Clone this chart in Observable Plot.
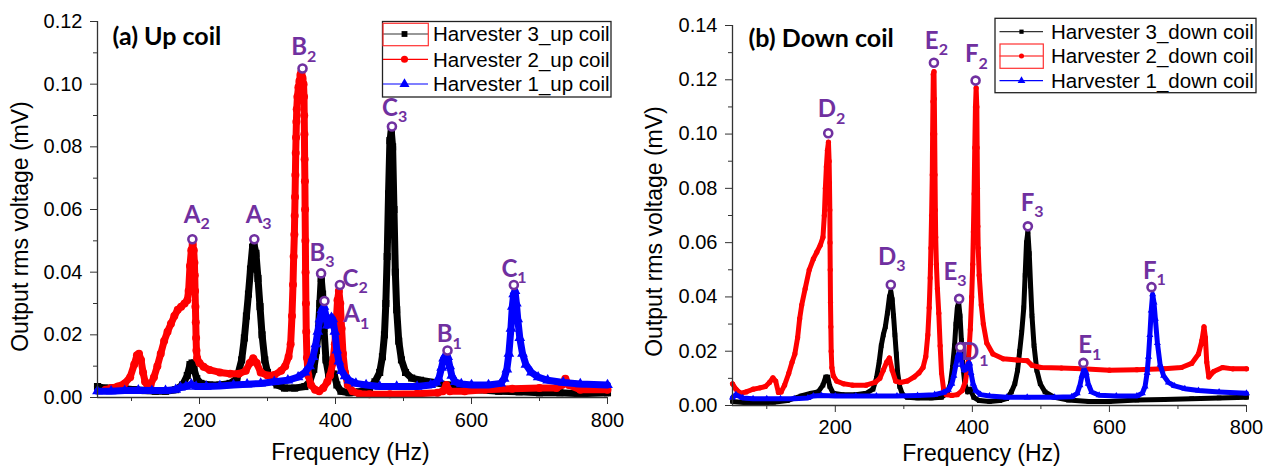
<!DOCTYPE html>
<html><head><meta charset="utf-8">
<script src="https://cdn.jsdelivr.net/npm/d3@7"></script>
<script src="https://cdn.jsdelivr.net/npm/@observablehq/plot@0.6"></script>
<style>
body{margin:0;background:#fff;}
#wrap{position:relative;width:1273px;height:467px;overflow:hidden;background:#fff;}
</style></head><body><div id="wrap"></div>
<script>
// ---------- ticks ----------
const xMajorTicks = [200, 400, 600, 800];
const xMinorTicks = [100, 300, 500, 700];
const yMajorUp = [0, 0.02, 0.04, 0.06, 0.08, 0.10, 0.12];
const yMinorUp = [0.01, 0.03, 0.05, 0.07, 0.09, 0.11];
const yMajorDown = [0, 0.02, 0.04, 0.06, 0.08, 0.10, 0.12, 0.14];
const yMinorDown = [0.01, 0.03, 0.05, 0.07, 0.09, 0.11, 0.13];

// ---------- panel (a) up coil: [frequency Hz, rms voltage mV] ----------
const h3Up = [[50,0.0035],[60,0.003],[75,0.003],[90,0.0028],[105,0.0025],[120,0.0022],[135,0.002],[150,0.002],[165,0.0025],[175,0.004],[182,0.007],[186,0.0105],[189,0.011],[192,0.009],[196,0.006],[202,0.0045],[215,0.004],[230,0.004],[245,0.0045],[255,0.006],[262,0.012],[266,0.019],[269,0.026],[272,0.033],[275,0.041],[278,0.048],[280,0.049],[283,0.046],[286,0.038],[289,0.029],[292,0.02],[296,0.012],[300,0.008],[306,0.0055],[314,0.004],[325,0.003],[340,0.003],[355,0.0035],[362,0.005],[368,0.009],[372,0.015],[375,0.022],[377,0.03],[379,0.038],[381,0.033],[383,0.022],[386,0.012],[390,0.007],[394,0.008],[398,0.0075],[402,0.004],[408,0.002],[420,0.0015],[435,0.0018],[450,0.003],[458,0.005],[465,0.008],[469,0.013],[472,0.02],[474,0.03],[476,0.045],[478,0.065],[480,0.082],[482,0.085],[484,0.08],[486,0.06],[488,0.04],[490,0.028],[493,0.018],[497,0.012],[503,0.008],[512,0.0062],[525,0.0055],[545,0.0048],[565,0.004],[585,0.003],[610,0.0025],[640,0.002],[670,0.0018],[700,0.0015],[730,0.0015],[760,0.0012],[800,0.0015]];
const h2Up = [[62,0.0025],[70,0.003],[80,0.0035],[90,0.0045],[98,0.0065],[104,0.0105],[108,0.0135],[111,0.014],[114,0.012],[117,0.008],[120,0.005],[124,0.0035],[128,0.004],[133,0.0065],[138,0.01],[143,0.014],[148,0.018],[153,0.021],[158,0.0235],[163,0.026],[168,0.028],[173,0.029],[178,0.03],[182,0.031],[184,0.034],[186,0.042],[188,0.047],[190,0.049],[191.5,0.047],[192.5,0.043],[193,0.039],[193.5,0.034],[194,0.029],[194.5,0.024],[195,0.019],[195.5,0.015],[196.5,0.0125],[200,0.011],[206,0.0098],[215,0.0088],[230,0.008],[245,0.0076],[258,0.0076],[268,0.0085],[274,0.011],[279,0.0125],[284,0.011],[290,0.008],[300,0.007],[310,0.0072],[320,0.0085],[326,0.01],[331,0.013],[334,0.017],[336,0.026],[337.5,0.036],[338.5,0.045],[339.5,0.052],[340,0.058],[340.5,0.064],[341,0.071],[341.5,0.078],[342,0.083],[342.5,0.088],[343,0.092],[344,0.096],[345.5,0.099],[347,0.101],[348.5,0.103],[350,0.104],[351.5,0.102],[353,0.1],[353.7,0.096],[354,0.09],[354.3,0.084],[354.6,0.076],[355,0.069],[355.3,0.06],[355.7,0.05],[356,0.04],[356.5,0.03],[357,0.021],[358,0.0127],[360,0.007],[364,0.004],[370,0.0025],[376,0.002],[382,0.003],[388,0.005],[392,0.007],[396,0.011],[399,0.017],[401,0.024],[403,0.031],[405,0.034],[407,0.03],[409,0.022],[411,0.014],[414,0.008],[418,0.004],[425,0.002],[435,0.0012],[450,0.001],[480,0.001],[520,0.0012],[550,0.0015],[558,0.002],[563,0.004],[568,0.002],[590,0.002],[620,0.0025],[660,0.0028],[700,0.003],[725,0.003],[733,0.004],[738,0.006],[743,0.004],[760,0.0025],[800,0.0025]];
const h1Up = [[50,0.002],[70,0.002],[90,0.0022],[110,0.0023],[130,0.0022],[150,0.0022],[165,0.0025],[172,0.0032],[180,0.0035],[188,0.0042],[195,0.0035],[210,0.0035],[230,0.0037],[250,0.004],[270,0.0042],[290,0.0045],[310,0.005],[330,0.0055],[345,0.0065],[355,0.008],[362,0.01],[367,0.013],[371,0.017],[374,0.021],[377,0.025],[380,0.028],[383,0.029],[386,0.026],[388,0.023],[391,0.024],[394,0.0255],[396,0.025],[399,0.021],[402,0.015],[405,0.0115],[409,0.0085],[414,0.0068],[420,0.0055],[430,0.0045],[445,0.004],[465,0.0035],[490,0.0035],[520,0.0035],[540,0.004],[548,0.0048],[552,0.006],[556,0.0095],[559,0.0125],[562,0.0135],[565,0.013],[568,0.01],[571,0.007],[576,0.005],[585,0.0043],[600,0.004],[625,0.004],[643,0.0045],[648,0.006],[652,0.009],[655,0.014],[658,0.022],[660,0.029],[662,0.033],[664,0.034],[666,0.03],[668,0.025],[671,0.019],[675,0.014],[680,0.0105],[688,0.008],[698,0.0065],[712,0.0055],[735,0.0048],[760,0.0043],[800,0.004]];

// ---------- panel (b) down coil ----------
const h3Down = [[50,0.0015],[70,0.001],[90,0.001],[110,0.0012],[130,0.0018],[150,0.0035],[165,0.0045],[175,0.005],[182,0.0075],[186,0.0105],[189,0.0105],[192,0.007],[197,0.0045],[210,0.004],[230,0.004],[245,0.0045],[255,0.006],[260,0.01],[264,0.016],[267,0.022],[270,0.026],[273,0.029],[276,0.034],[279,0.04],[281,0.042],[283,0.039],[285,0.033],[287,0.026],[289,0.019],[291,0.012],[294,0.007],[298,0.004],[305,0.003],[320,0.0028],[340,0.0028],[355,0.003],[363,0.0045],[368,0.008],[371,0.014],[374,0.022],[376,0.03],[378,0.036],[380,0.038],[382,0.033],[384,0.024],[386,0.015],[389,0.008],[393,0.005],[397,0.006],[402,0.003],[410,0.0018],[425,0.0015],[440,0.0018],[450,0.0025],[457,0.005],[462,0.008],[466,0.013],[469,0.02],[472,0.027],[475,0.036],[477,0.048],[479,0.06],[481,0.064],[483,0.056],[485,0.044],[487,0.033],[490,0.022],[494,0.013],[499,0.008],[506,0.005],[520,0.003],[540,0.002],[570,0.0015],[600,0.0015],[640,0.002],[680,0.0022],[720,0.0025],[760,0.0028],[800,0.003]];
const h2Down = [[50,0.008],[55,0.006],[62,0.0045],[70,0.005],[80,0.006],[90,0.0065],[98,0.007],[104,0.0085],[109,0.0102],[113,0.009],[117,0.0048],[121,0.005],[126,0.0075],[132,0.0118],[137,0.016],[141,0.019],[145,0.025],[148,0.032],[151,0.037],[156,0.043],[162,0.05],[168,0.054],[173,0.0565],[178,0.059],[182,0.062],[184,0.07],[185.5,0.08],[187,0.088],[188.5,0.094],[190,0.097],[191,0.09],[191.5,0.082],[192,0.072],[192.3,0.06],[192.6,0.05],[193,0.038],[193.5,0.029],[194,0.02],[195,0.014],[197,0.011],[202,0.009],[212,0.008],[225,0.0075],[245,0.0075],[258,0.0085],[265,0.01],[270,0.013],[275,0.016],[279,0.0175],[283,0.013],[288,0.009],[295,0.0085],[305,0.009],[315,0.0105],[322,0.012],[328,0.014],[332,0.018],[335,0.026],[337,0.036],[338.5,0.047],[339.5,0.058],[340.5,0.07],[341.5,0.085],[342,0.1],[342.5,0.112],[343,0.122],[344,0.123],[344.5,0.113],[345,0.1],[345.5,0.085],[346,0.072],[346.5,0.062],[347.5,0.052],[349,0.043],[351,0.034],[353,0.022],[355,0.012],[358,0.006],[362,0.004],[370,0.0037],[378,0.004],[385,0.0055],[390,0.009],[394,0.016],[397,0.028],[399,0.04],[400.5,0.052],[401.5,0.064],[402.5,0.078],[403.5,0.095],[404.5,0.11],[405.5,0.117],[406.5,0.11],[407,0.095],[407.5,0.08],[408,0.066],[408.5,0.058],[410,0.048],[413,0.037],[416,0.03],[421,0.023],[430,0.019],[445,0.0172],[465,0.0168],[480,0.0165],[487,0.0148],[500,0.014],[530,0.0138],[560,0.0135],[600,0.013],[640,0.0132],[680,0.0135],[705,0.014],[720,0.0155],[730,0.019],[735,0.024],[738,0.029],[740,0.025],[742,0.016],[745,0.0105],[752,0.0125],[765,0.014],[780,0.0135],[800,0.0135]];
const h1Down = [[50,0.003],[55,0.004],[65,0.0028],[80,0.0025],[100,0.0025],[120,0.0025],[140,0.0025],[160,0.0028],[168,0.0035],[180,0.0037],[200,0.0035],[230,0.0035],[260,0.0035],[290,0.0035],[320,0.0037],[345,0.004],[358,0.0048],[365,0.0058],[370,0.008],[373,0.011],[376,0.015],[379,0.0185],[381,0.0195],[383,0.0185],[385,0.015],[388,0.013],[391,0.0135],[394,0.0155],[396,0.0155],[398,0.012],[401,0.008],[405,0.0055],[412,0.004],[425,0.0035],[450,0.003],[480,0.003],[520,0.003],[545,0.0032],[553,0.0045],[557,0.0075],[560,0.011],[563,0.0135],[566,0.012],[569,0.008],[574,0.005],[585,0.0038],[610,0.0035],[640,0.0035],[648,0.0045],[652,0.007],[655,0.012],[657,0.018],[659,0.026],[661,0.035],[663,0.041],[665,0.038],[667,0.032],[670,0.023],[674,0.015],[679,0.011],[686,0.0085],[695,0.0072],[710,0.0062],[730,0.0055],[760,0.005],[800,0.0045]];

// ---------- annotations: label, marker (freq, volt), label anchor (freq, volt) ----------
const annoUpLabel = ["A2","A3","B2","B3","A1","C2","C3","B1","C1"];
const annoUpFreq = [189.5, 280.6, 351.5, 378.8, 383.7, 406.5, 483, 564.7, 662.3];
const annoUpVolt = [0.0505, 0.0505, 0.105, 0.0396, 0.0308, 0.0359, 0.0865, 0.015, 0.0359];
const annoUpTextFreq = [197, 288, 353.7, 380.6, 431.6, 429.4, 487.5, 567.6, 663];
const annoUpTextVolt = [0.0583, 0.0583, 0.1117, 0.046, 0.0265, 0.0377, 0.0924, 0.0201, 0.0409];

const annoDownLabel = ["D2","E2","F2","D3","E3","F3","D1","E1","F1"];
const annoDownFreq = [189.7, 343.9, 404.7, 281, 380.7, 481, 382.4, 562, 661.4];
const annoDownVolt = [0.1003, 0.1263, 0.1197, 0.0445, 0.0393, 0.066, 0.0215, 0.0157, 0.0436];
const annoDownTextFreq = [196.5, 346.4, 404.7, 284.6, 373.5, 486, 405.6, 570.3, 664.3];
const annoDownTextVolt = [0.109, 0.1342, 0.1293, 0.0546, 0.0491, 0.0745, 0.0196, 0.0221, 0.0495];

const legendUp = ["Harvester 3_up coil", "Harvester 2_up coil", "Harvester 1_up coil"];
const legendDown = ["Harvester 3_down coil", "Harvester 2_down coil", "Harvester 1_down coil"];

const COLORS = ["#000000", "#ff0000", "#0000ff"];
const SYMBOLS = ["square", "circle", "triangle"];
const PURPLE = "#7030a0";
const SANS = "'Liberation Sans', Arial, sans-serif";
const CAL = "Lato, 'Open Sans', sans-serif";

const toRows = arr => arr.map(([f, v]) => ({f, v}));

function buildPanel(c) {
  const marks = [];
  c.series.forEach((s, i) => {
    const rows = toRows(s);
    marks.push(Plot.line(rows, {x: "f", y: "v", stroke: COLORS[i], strokeWidth: c.lineW, strokeLinejoin: "round", strokeLinecap: "round"}));
    marks.push(Plot.dot(rows, {x: "f", y: "v", symbol: () => SYMBOLS[i], fill: COLORS[i], r: c.dotR, stroke: "none"}));
  });
  const anno = c.annoLabel.map((l, i) => ({l, f: c.annoFreq[i], v: c.annoVolt[i], tf: c.annoTF[i], tv: c.annoTV[i]}));
  marks.push(
    Plot.dot(anno, {x: "f", y: "v", r: 4, stroke: PURPLE, strokeWidth: 2.6, fill: "white"}),
    Plot.text(anno, {x: "tf", y: "tv", text: d => d.l[0], textAnchor: "end", dx: 3, lineAnchor: "middle", fontSize: 24, fontWeight: "bold", fontFamily: CAL, fill: PURPLE}),
    Plot.text(anno, {x: "tf", y: "tv", text: d => d.l.slice(1), textAnchor: "start", dx: 3, dy: 9, lineAnchor: "middle", fontSize: 16, fontWeight: "bold", fontFamily: CAL, fill: PURPLE}),
    Plot.ruleX([50], {stroke: "#333", strokeWidth: 1.3}),
    Plot.ruleY([0], {stroke: "#333", strokeWidth: 1.3}),
    Plot.axisX({ticks: xMajorTicks, anchor: "bottom", tickSize: 7, tickPadding: c.xPad, label: null, fontSize: 20, fontFamily: SANS, stroke: "#333"}),
    Plot.axisX({ticks: xMinorTicks, anchor: "bottom", tickSize: 4, tickFormat: () => "", label: null, stroke: "#333"}),
    Plot.axisY({ticks: c.yMajor, anchor: "left", tickSize: 7, tickPadding: 8, tickFormat: d => d.toFixed(2), label: null, fontSize: 20, fontFamily: SANS, stroke: "#333"}),
    Plot.axisY({ticks: c.yMinor, anchor: "left", tickSize: 4, tickFormat: () => "", label: null, stroke: "#333"}),
    Plot.text(["Frequency (Hz)"], {text: d => d, frameAnchor: "bottom", textAnchor: "middle", lineAnchor: "middle", dx: c.xLabDx, dy: c.xLabDy, fontSize: 23, fontFamily: SANS, fill: "#000"}),
    Plot.text(["Output rms voltage (mV)"], {text: d => d, frameAnchor: "left", textAnchor: "middle", lineAnchor: "middle", rotate: -90, dx: c.yLabDx, dy: c.yLabDy, fontSize: 23, fontFamily: SANS, fill: "#000"}),
    Plot.text([c.title], {text: d => d, frameAnchor: "top-left", textAnchor: "start", lineAnchor: "middle", dx: c.titleDx, dy: c.titleDy, fontSize: 25, fontWeight: "bold", fontFamily: CAL, fill: "#000"})
  );
  const svg = Plot.plot({
    width: c.width, height: 467,
    marginLeft: c.ml, marginRight: c.mr, marginTop: c.mt, marginBottom: c.mb,
    x: {domain: [50, 800]},
    y: {domain: c.yDomain},
    style: {fontFamily: SANS, fontSize: "20px", color: "#000", background: "transparent", overflow: "visible"},
    marks
  });
  svg.style.position = "absolute";
  svg.style.left = c.left + "px";
  svg.style.top = "0px";
  document.getElementById("wrap").appendChild(svg);
}

buildPanel({
  left: 0, width: 640, ml: 97, mr: 33, mt: 21, mb: 70, yDomain: [0, 0.12],
  series: [h3Up, h2Up, h1Up], lineW: 7, dotR: 4,
  yMajor: yMajorUp, yMinor: yMinorUp, xPad: 8,
  annoLabel: annoUpLabel, annoFreq: annoUpFreq, annoVolt: annoUpVolt, annoTF: annoUpTextFreq, annoTV: annoUpTextVolt,
  xLabDx: -2, xLabDy: 55, yLabDx: -77, yLabDy: 17, title: "(a) Up coil", titleDx: 15, titleDy: 15
});
buildPanel({
  left: 640, width: 633, ml: 92, mr: 27, mt: 25, mb: 62, yDomain: [0, 0.14],
  series: [h3Down, h2Down, h1Down], lineW: 5, dotR: 2.6,
  yMajor: yMajorDown, yMinor: yMinorDown, xPad: 7,
  annoLabel: annoDownLabel, annoFreq: annoDownFreq, annoVolt: annoDownVolt, annoTF: annoDownTextFreq, annoTV: annoDownTextVolt,
  xLabDx: -8, xLabDy: 48, yLabDx: -78, yLabDy: 16, title: "(b) Down coil", titleDx: 16, titleDy: 13
});

// ---------- legends ----------
const ov = d3.select("#wrap").append("svg")
  .attr("width", 1273).attr("height", 467)
  .style("position", "absolute").style("left", "0px").style("top", "0px");
const symMap = {square: d3.symbolSquare, circle: d3.symbolCircle, triangle: d3.symbolTriangle};
function drawLegend(L) {
  const g = ov.append("g");
  g.append("rect").attr("x", L.x0).attr("y", L.y0).attr("width", L.x1 - L.x0).attr("height", L.y1 - L.y0)
    .attr("fill", "white").attr("stroke", "#222").attr("stroke-width", 1.3);
  L.labels.forEach((lab, i) => {
    const yy = L.rows[i];
    g.append("line").attr("x1", L.lx0).attr("x2", L.lx1).attr("y1", yy).attr("y2", yy)
      .attr("stroke", i === 0 ? "#333" : COLORS[i]).attr("stroke-width", 1.2);
    g.append("path").attr("d", d3.symbol(symMap[SYMBOLS[i]], L.symSize[i])())
      .attr("transform", `translate(${L.mx},${yy})`).attr("fill", COLORS[i]);
    g.append("text").attr("x", L.tx).attr("y", yy).attr("dy", "0.36em")
      .attr("font-family", SANS).attr("font-size", L.fs).attr("fill", "#000").text(lab);
  });
  const r = L.hl;
  g.append("rect").attr("x", r[0]).attr("y", r[1]).attr("width", r[2] - r[0]).attr("height", r[3] - r[1])
    .attr("fill", "none").attr("stroke", "#ff3030").attr("stroke-width", 1.2);
}
drawLegend({x0: 382.5, y0: 21.5, x1: 611, y1: 97, rows: [34, 59.3, 84], lx0: 383, lx1: 428, mx: 404.5, tx: 433,
  labels: legendUp, symSize: [34, 40, 44], fs: 20.5, hl: [383, 23.3, 428.3, 45.7]});
drawLegend({x0: 995, y0: 18.3, x1: 1256, y1: 92.7, rows: [31.7, 56, 80.7], lx0: 999.5, lx1: 1043, mx: 1021.5, tx: 1051,
  labels: legendDown, symSize: [18, 20, 26], fs: 20.5, hl: [1000, 44, 1043.3, 68.3]});
</script></body></html>
